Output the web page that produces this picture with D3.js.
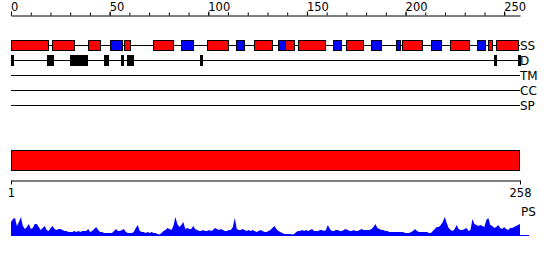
<!DOCTYPE html>
<html>
<head>
<meta charset="utf-8">
<script src="https://cdn.jsdelivr.net/npm/d3@7"></script>
<style>
  body { margin: 0; background: #fff; }
  svg text { font-family: "DejaVu Sans", sans-serif; fill: #000; }
</style>
</head>
<body>
<script>
var WIDTH = 550, HEIGHT = 260
var seqLen = 258

// secondary structure: helix (red) and strand (blue), [start, end] in residues
var helices = [[0,19],[21,32],[39,45],[57.5,60.5],[72,82],[99.5,110],[123,132],[139,143.5],
  [145.5,159],[170,178.5],[198,208],[222.5,232],[242,244],[246,257]]
var strands = [[50,56],[86,92],[114,118],[135.5,139],[163,167],[182.5,187.5],[195,197],
  [213,218],[236,240]]
// disorder segments
var disorder = [[0,1],[18,21],[30,38.5],[47,49],[56,57],[59,62],[96,97],[245,246],[257,258]]
var rowLabels = ['SS','D','TM','CC','SP']
var topTicks = [0,50,100,150,200,250]
var bottomTicks = [1,258]
// PS profile, one value per residue
var ps = [14,17,18,10,14,19,10,7,9,12, 7,8,12,12,9,6,8,10,6,5,
  8,10,7,6,7,7,6,5,5,4, 4,4,5,4,5,4,5,5,5,7, 4,5,7,9,6,4,4,3,3,3,
  3,3,5,7,5,5,6,7,4,3, 3,3,4,8,11,5,4,4,3,4, 3,4,3,3,2,1.5,3,5,6,8,
  7,6,10,19,12,9,11,14,7,8, 7,7,10,7,6,5,5,6,5,5, 6,5,6,8,7,6,7,6,5,5,
  6,6,9,18,7,6,6,7,6,5, 6,5,6,5,4,5,6,5,4,4, 5,6,8,10,7,5,4,3,2,2,
  2,2,1.5,2,4,5,5,6,5,6, 5,6,7,5,5,5,6,6,5,6, 11,7,5,5,6,6,5,5,6,7,
  6,5,5,6,5,5,6,7,6,6, 6,6,7,9,12,8,7,6,6,5, 5,4,4,4,4,4,4,4,4,3,
  3,3,4,5,7,5,4,4,4,4, 4,3,3,5,7,9,9,11,14,19, 13,8,6,5,7,11,7,6,6,7,
  8,5,6,17,12,11,10,11,10,9, 16,18,11,10,8,9,11,8,7,9, 7,6,8,8,9,10,11,12]

var svg = d3.select('body').append('svg')
  .attr('width', WIDTH).attr('height', HEIGHT)

var x = d3.scaleLinear().domain([0, seqLen]).range([11, 520])
var x1 = d3.scaleLinear().domain([1, seqLen]).range([11, 520])

// top ruler
var minor = svg.append('g').attr('transform', 'translate(0,15.5)')
  .call(d3.axisTop(x).tickValues(d3.range(0, seqLen, 10)).tickSize(3).tickSizeOuter(0).tickFormat(''))
var major = svg.append('g').attr('transform', 'translate(0,15.5)')
  .call(d3.axisTop(x).tickValues(topTicks).tickSize(4).tickSizeOuter(0))
major.select('.domain').remove()
major.selectAll('text').attr('text-anchor', 'start').attr('dx', '-0.5').attr('y', -5)
  .style('font-size', '11.5px').attr('dy', 0)
svg.selectAll('.tick line, .domain').attr('stroke', '#000')
svg.selectAll('.tick text').style('font-family', '"DejaVu Sans", sans-serif')

// track lines
var rowY = d3.scalePoint().domain(rowLabels).range([45, 105])
svg.append('g').selectAll('line').data(rowLabels).enter().append('line')
  .attr('x1', x(0)).attr('x2', x(seqLen))
  .attr('y1', function(d){ return rowY(d) + 0.5 }).attr('y2', function(d){ return rowY(d) + 0.5 })
  .attr('stroke', '#000')
svg.append('g').selectAll('text').data(rowLabels).enter().append('text')
  .attr('x', x(seqLen)).attr('y', function(d){ return rowY(d) + 5 })
  .style('font-size', '12px')
  .text(function(d){ return d })

function segs(data, color, row, h){
  svg.append('g').selectAll('rect').data(data).enter().append('rect')
    .attr('x', function(d){ return Math.round(x(d[0])) + 0.5 })
    .attr('width', function(d){ return Math.max(1, Math.round(x(d[1]) - x(d[0]))) })
    .attr('y', rowY(row) - h/2 + 0.5).attr('height', h)
    .attr('fill', color).attr('stroke', '#000')
}
segs(helices, '#ff0000', 'SS', 10)
segs(strands, '#0000ff', 'SS', 10)
segs(disorder, '#000', 'D', 10)

// full-length bar
svg.append('rect')
  .attr('x', x1(1) + 0.5).attr('y', 150.5)
  .attr('width', x1(seqLen) - x1(1) - 1).attr('height', 20)
  .attr('fill', '#ff0000').attr('stroke', '#000')

var bottom = svg.append('g').attr('transform', 'translate(0,180.5)')
  .call(d3.axisBottom(x1).tickValues(bottomTicks).tickSize(4).tickSizeOuter(0))
bottom.selectAll('text').style('font-size', '11.5px').attr('y', 8)
bottom.selectAll('line, .domain').attr('stroke', '#000')

// PS profile
var y = d3.scaleLinear().domain([0, 20]).range([236, 216])
svg.append('path').datum(ps)
  .attr('d', d3.area()
    .x(function(d, i){ return x1(i + 1) })
    .y0(y(0)).y1(function(d){ return y(d) }))
  .attr('fill', '#0000ff')
svg.append('line')
  .attr('x1', x1(1)).attr('x2', 529)
  .attr('y1', y(0) - 0.5).attr('y2', y(0) - 0.5)
  .attr('stroke', '#0000ff')
svg.append('text').attr('x', 521).attr('y', 216)
  .style('font-size', '12px').text('PS')
</script>
</body>
</html>
